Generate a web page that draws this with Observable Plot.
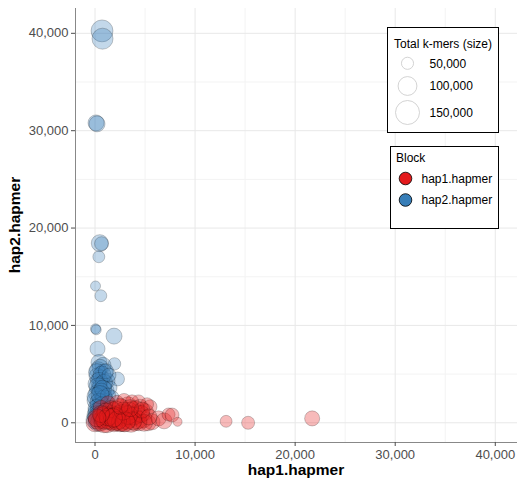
<!DOCTYPE html>
<html><head><meta charset="utf-8">
<script src="https://cdn.jsdelivr.net/npm/d3@7"></script>
<script src="https://cdn.jsdelivr.net/npm/@observablehq/plot@0.6"></script>
<style>body{margin:0;background:#fff;} svg{display:block;}</style>
</head><body><div id="chart"></div>
<script>
const blocks = ["hap1.hapmer", "hap2.hapmer"];
const blockColors = ["#E41A1C", "#377EB8"];

// Block "hap2.hapmer" points
const b2Hap1 = [700, 750, 100, 200, 480, 650, 380, 50, 580, 50, 120, 1900, 250, 1950, 2250,
  400, 800, 300, 900, 200, 600, 1200, 100, 700, 400, 1000, 200, 800, 500, 100, 1100, 600, 300, 900,
  1500, 1700, 100, 500, 1200, 300,
  500, 200, 700, 400, 900, 300, 600, 100, 900, 400, 700, 200, 1000, 400, 600, 100, 800, 1300, 500, 200, 700, 1100, 1400,
  0, 300];
const b2Hap2 = [40250, 39450, 30800, 30700, 18450, 18400, 17050, 14050, 13050, 9650, 9550, 8900, 7600, 6050, 4500,
  6200, 5900, 5400, 5100, 4800, 4500, 4300, 4000, 3800, 3500, 3300, 3000, 2800, 2500, 2300, 2200, 2000, 1700, 1500,
  3600, 2600, 1200, 1000, 900, 700,
  5700, 5200, 4900, 4300, 4100, 3700, 3200, 2700, 2500, 2100, 1800, 1500, 1200, 1300, 600, 800, 3500, 2800, 2900, 600, 250, 5300, 4900,
  300, 150];
const b2Total = [129000, 120000, 77000, 77000, 85000, 62000, 49000, 38000, 49000, 38000, 38000, 77000, 70000, 52000, 62000,
  77000, 77000, 85000, 93000, 77000, 93000, 77000, 77000, 101000, 77000, 93000, 85000, 93000, 77000, 93000, 77000, 93000, 77000, 85000,
  62000, 62000, 77000, 93000, 70000, 77000,
  77000, 85000, 93000, 85000, 85000, 93000, 85000, 93000, 85000, 93000, 85000, 93000, 77000, 85000, 93000, 93000, 85000, 70000, 93000, 101000, 85000, 70000, 62000,
  93000, 110000];

// Block "hap1.hapmer" points
const b1Hap1 = [0, 500, 800, 1200, 1500, 1800, 2000, 2300, 2600, 2800, 3100, 3300, 3500, 3800, 4000, 4200, 4500, 4800, 5000, 5300,
  5700, 5500, 4350, 6350, 6900, 7350, 7700, 8250, 13100, 15300, 21700, 600, 1300, 2200, 2900, 1000, 2500, 3000, 1600, 4400, 3700, 5200,
  300, 700, 900, 1100, 1400, 1700, 1900, 2100, 2400, 2700, 2900, 3200, 3400, 3600, 3900, 4100, 4300, 4600, 4900, 1000, 1600, 2000,
  2600, 3300, 3800, 1300, 2200, 2800, 3000, 1800, 4700, 5400, 600, 200, 2500, 3500];
const b1Hap2 = [0, 100, 400, 0, 600, 1200, 200, 800, 1500, 300, 1000, 1800, 500, 1300, 100, 900, 1600, 400, 1100, 0,
  100, 1650, 2150, 450, 200, 850, 800, 100, 150, 0, 450, 1500, 2000, 2100, 2300, 800, 0, 600, 100, 0, 2200, 1900,
  300, 700, 0, 1100, 300, 800, 0, 1300, 400, 900, 0, 300, 1200, 0, 700, 1400, 300, 900, 0, 300, 1400, 600,
  100, 800, 200, 600, 200, 1200, 100, 500, 1300, 600, 900, 500, 1700, 1500];
const b1Total = [93000, 101000, 93000, 110000, 93000, 93000, 110000, 101000, 93000, 110000, 93000, 85000, 110000, 93000, 93000, 101000, 77000, 93000, 85000, 77000,
  77000, 62000, 62000, 70000, 77000, 56000, 62000, 33000, 49000, 56000, 70000, 77000, 70000, 62000, 62000, 93000, 93000, 93000, 85000, 77000, 56000, 56000,
  101000, 93000, 110000, 93000, 101000, 101000, 93000, 93000, 110000, 101000, 93000, 101000, 93000, 101000, 93000, 85000, 93000, 85000, 85000, 101000, 85000, 110000,
  101000, 101000, 93000, 93000, 101000, 93000, 110000, 101000, 77000, 77000, 85000, 93000, 77000, 85000];

const xTicks = [0, 10000, 20000, 30000, 40000];
const yTicks = [0, 10000, 20000, 30000, 40000];
const minorTicks = [5000, 15000, 25000, 35000];
const sizeBreaks = [50000, 100000, 150000];
const xTitle = "hap1.hapmer";
const yTitle = "hap2.hapmer";
const sizeTitle = "Total k-mers (size)";
const colorTitle = "Block";

const rows = [];
b2Hap1.forEach((v, i) => rows.push({block: blocks[1], hap1: v, hap2: b2Hap2[i], total: b2Total[i]}));
b1Hap1.forEach((v, i) => rows.push({block: blocks[0], hap1: v, hap2: b1Hap2[i], total: b1Total[i]}));

const xDomain = [-1950, 42220];
const yDomain = [-2025, 42550];
const fmt = d3.format(",");
const font = "'Liberation Sans', Arial, Helvetica, sans-serif";

const plot = Plot.plot({
  width: 517, height: 482,
  marginLeft: 75, marginRight: 0, marginTop: 8, marginBottom: 40,
  style: {fontFamily: font, background: "#fff", fontSize: "13px"},
  x: {domain: xDomain, label: null},
  y: {domain: yDomain, label: null},
  r: {type: "sqrt", domain: [3250, 150000], range: [0, 12]},
  color: {domain: blocks, range: blockColors},
  marks: [
    Plot.ruleX(minorTicks, {stroke: "#f3f3f3", strokeWidth: 1}),
    Plot.ruleY(minorTicks, {stroke: "#f3f3f3", strokeWidth: 1}),
    Plot.ruleX(xTicks, {stroke: "#e8e8e8", strokeWidth: 1}),
    Plot.ruleY(yTicks, {stroke: "#e8e8e8", strokeWidth: 1}),
    Plot.ruleX([xDomain[0]], {stroke: "#888", strokeWidth: 1}),
    Plot.ruleY([yDomain[0]], {stroke: "#888", strokeWidth: 1}),
    Plot.axisX({ticks: xTicks, tickFormat: fmt, tickSize: 4, tickPadding: 3, color: "#4d4d4d", fontSize: 13, label: null}),
    Plot.axisY({ticks: yTicks, tickFormat: fmt, tickSize: 4, tickPadding: 3, color: "#4d4d4d", fontSize: 13, label: null}),
    Plot.dot(rows, {x: "hap1", y: "hap2", r: "total", fill: "block", fillOpacity: 0.3,
      stroke: "black", strokeOpacity: 0.3, strokeWidth: 0.7, sort: null})
  ]
});
document.getElementById("chart").appendChild(plot);

const svg = d3.select(plot);
const rScale = plot.scale("r");

function addText(sel, x, y, str, size, anchor, weight) {
  return sel.append("text").attr("x", x).attr("y", y).attr("text-anchor", anchor || "start")
    .attr("font-family", font).attr("font-size", size).attr("font-weight", weight || "normal")
    .attr("fill", "#000").text(str);
}

// axis titles
addText(svg, 296, 475, xTitle, 15.5, "middle", "bold");
addText(svg, 0, 0, yTitle, 15.5, "middle", "bold").attr("x", null).attr("y", null)
  .attr("transform", "translate(20,225) rotate(-90)");

// size legend
const sl = svg.append("g");
sl.append("rect").attr("x", 387.5).attr("y", 27.5).attr("width", 111).attr("height", 105)
  .attr("fill", "#fff").attr("stroke", "#000").attr("stroke-width", 1);
addText(sl, 394, 47.5, sizeTitle, 12);
const sizeY = [63.3, 86, 112.5];
sizeBreaks.forEach((b, i) => {
  const r = rScale.apply(b);
  sl.append("circle").attr("cx", 407.5).attr("cy", sizeY[i]).attr("r", r)
    .attr("fill", "#fff").attr("stroke", "#c8c8c8").attr("stroke-width", 0.8);
  addText(sl, 429.5, sizeY[i] + 4.3, fmt(b), 12);
});

// color legend
const cl = svg.append("g");
cl.append("rect").attr("x", 390.5).attr("y", 146.5).attr("width", 108).attr("height", 82)
  .attr("fill", "#fff").attr("stroke", "#000").attr("stroke-width", 1);
addText(cl, 396, 162, colorTitle, 12);
const colY = [178.5, 200];
blocks.forEach((b, i) => {
  cl.append("circle").attr("cx", 405.5).attr("cy", colY[i]).attr("r", 6.3)
    .attr("fill", blockColors[i]).attr("stroke", "#000").attr("stroke-width", 0.8);
  addText(cl, 421.5, colY[i] + 4.3, b, 12);
});
</script>
</body></html>
